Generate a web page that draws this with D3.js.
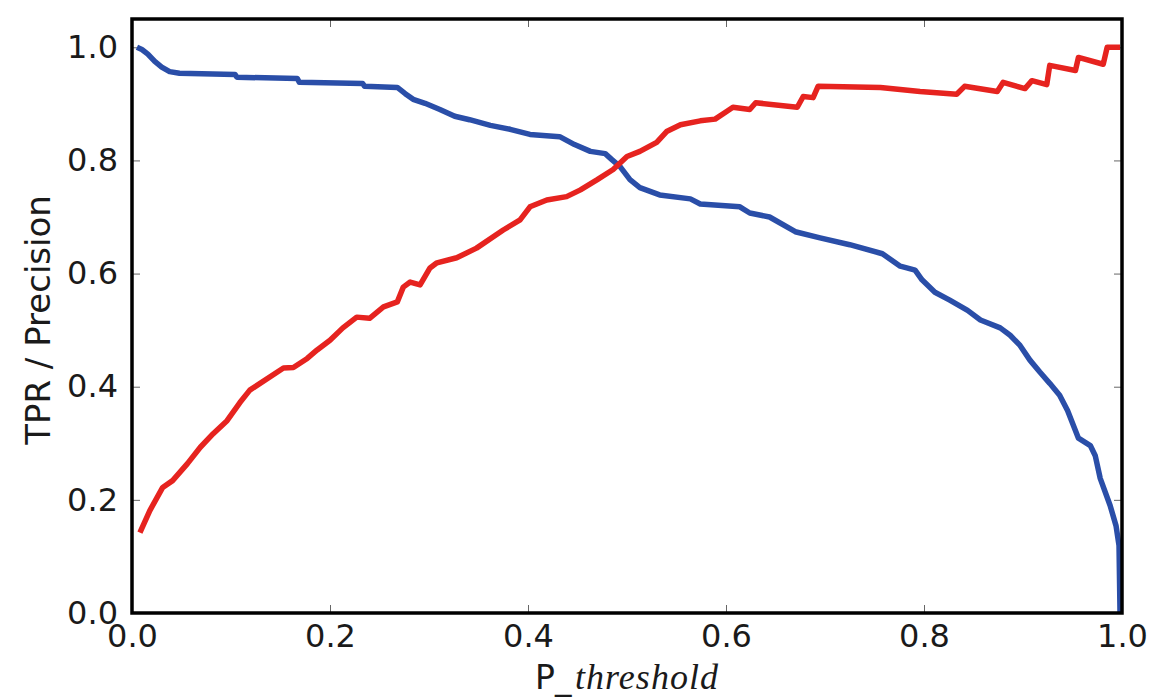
<!DOCTYPE html>
<html>
<head>
<meta charset="utf-8">
<script src="https://cdn.jsdelivr.net/npm/d3@7"></script>
<style>
  html, body { margin: 0; padding: 0; background: #ffffff; }
  svg { display: block; }
</style>
</head>
<body>
<script>
// Threshold sweep: true positive rate and precision as the cut-off moves from 0 to 1
const tprThreshold = [0.005,0.010,0.016,0.023,0.030,0.038,0.048,0.104,0.106,0.167,0.169,0.233,0.235,0.268,0.276,0.284,0.296,0.311,0.326,0.341,0.362,0.382,0.402,0.432,0.447,0.463,0.478,0.485,0.493,0.503,0.513,0.533,0.564,0.574,0.614,0.624,0.644,0.670,0.695,0.725,0.758,0.776,0.791,0.798,0.811,0.826,0.844,0.857,0.877,0.887,0.897,0.907,0.917,0.927,0.937,0.945,0.956,0.968,0.973,0.978,0.988,0.994,0.997,0.998];
const tprValues    = [1.000,0.996,0.988,0.975,0.965,0.957,0.954,0.952,0.947,0.945,0.938,0.936,0.931,0.929,0.918,0.908,0.901,0.890,0.878,0.872,0.862,0.855,0.846,0.842,0.828,0.816,0.812,0.801,0.789,0.766,0.752,0.739,0.732,0.723,0.718,0.707,0.700,0.674,0.663,0.651,0.635,0.613,0.606,0.589,0.567,0.553,0.535,0.518,0.504,0.491,0.473,0.447,0.426,0.406,0.385,0.358,0.309,0.296,0.278,0.238,0.190,0.154,0.119,0.000];

const precThreshold = [0.008,0.018,0.031,0.041,0.056,0.069,0.082,0.096,0.109,0.119,0.153,0.163,0.177,0.187,0.200,0.213,0.227,0.240,0.254,0.268,0.274,0.281,0.291,0.301,0.308,0.328,0.348,0.375,0.392,0.402,0.419,0.439,0.453,0.470,0.486,0.500,0.513,0.530,0.540,0.554,0.574,0.589,0.601,0.607,0.624,0.630,0.672,0.678,0.688,0.693,0.756,0.796,0.833,0.841,0.874,0.880,0.902,0.909,0.924,0.927,0.953,0.956,0.981,0.985,0.998];
const precValues    = [0.142,0.181,0.222,0.234,0.264,0.293,0.317,0.340,0.372,0.394,0.433,0.434,0.450,0.465,0.482,0.504,0.523,0.521,0.541,0.550,0.576,0.585,0.580,0.610,0.619,0.628,0.645,0.677,0.695,0.718,0.730,0.736,0.748,0.766,0.784,0.807,0.816,0.832,0.851,0.863,0.870,0.873,0.887,0.894,0.890,0.902,0.894,0.913,0.911,0.931,0.929,0.922,0.917,0.931,0.922,0.938,0.927,0.941,0.934,0.968,0.959,0.982,0.970,1.000,1.000];

const xTicks = [0.0, 0.2, 0.4, 0.6, 0.8, 1.0];
const yTicks = [0.0, 0.2, 0.4, 0.6, 0.8, 1.0];

const W = 1153, H = 699;
const margin = { left: 132, top: 19, right: 31, bottom: 86 };
const iw = W - margin.left - margin.right;
const ih = H - margin.top - margin.bottom;

const svg = d3.select("body").append("svg").attr("width", W).attr("height", H);
const g = svg.append("g").attr("transform", `translate(${margin.left},${margin.top})`);

const x = d3.scaleLinear().domain([0, 1]).range([0, iw]);
const y = d3.scaleLinear().domain([0, 1.05]).range([ih, 0]);

const sansFont = "'DejaVu Sans', sans-serif";
const tickFontSize = 32;

// inward ticks on all four sides
const tickLen = 8;
const tickStyle = sel => {
  sel.select(".domain").remove();
  sel.selectAll(".tick line").attr("stroke", "#666").attr("stroke-width", 1);
};
g.append("g").attr("transform", `translate(0,${ih})`)
  .call(d3.axisBottom(x).tickValues(xTicks).tickFormat(d3.format(".1f")).tickSizeInner(-tickLen).tickSizeOuter(0).tickPadding(11))
  .call(tickStyle)
  .selectAll("text").attr("font-family", sansFont).attr("font-size", tickFontSize).attr("fill", "#1a1a1a");
g.append("g")
  .call(d3.axisTop(x).tickValues(xTicks).tickFormat("").tickSizeInner(-tickLen).tickSizeOuter(0))
  .call(tickStyle);
g.append("g")
  .call(d3.axisLeft(y).tickValues(yTicks).tickFormat(d3.format(".1f")).tickSizeInner(-tickLen).tickSizeOuter(0).tickPadding(14))
  .call(tickStyle)
  .selectAll("text").attr("font-family", sansFont).attr("font-size", tickFontSize).attr("fill", "#1a1a1a");
g.append("g").attr("transform", `translate(${iw},0)`)
  .call(d3.axisRight(y).tickValues(yTicks).tickFormat("").tickSizeInner(-tickLen).tickSizeOuter(0))
  .call(tickStyle);

// curves
const line = d3.line().x(d => x(d[0])).y(d => y(d[1]));
const tpr = d3.zip(tprThreshold, tprValues);
const prec = d3.zip(precThreshold, precValues);

g.append("path").datum(tpr).attr("d", line)
  .attr("fill", "none").attr("stroke", "#2a4ea8").attr("stroke-width", 5.5)
  .attr("stroke-linejoin", "round").attr("stroke-linecap", "butt");
g.append("path").datum(prec).attr("d", line)
  .attr("fill", "none").attr("stroke", "#e6231f").attr("stroke-width", 5.5)
  .attr("stroke-linejoin", "round").attr("stroke-linecap", "butt");

// frame
g.append("rect").attr("x", 0).attr("y", 0).attr("width", iw).attr("height", ih)
  .attr("fill", "none").attr("stroke", "#000").attr("stroke-width", 3.5);

// axis labels
svg.append("text")
  .attr("transform", `translate(50,${margin.top + ih / 2 + 4}) rotate(-90)`)
  .attr("text-anchor", "middle")
  .attr("font-family", sansFont).attr("font-size", 34).attr("fill", "#1a1a1a")
  .text("TPR / Precision");

const xl = svg.append("text")
  .attr("x", 535).attr("y", 689)
  .attr("font-family", sansFont).attr("font-size", 33).attr("fill", "#1a1a1a");
xl.append("tspan").text("P_");
xl.append("tspan")
  .attr("x", 575)
  .attr("font-family", "'Liberation Serif', 'DejaVu Serif', serif")
  .attr("font-style", "italic").attr("font-size", 36)
  .attr("textLength", 143).attr("lengthAdjust", "spacing")
  .text("threshold");
</script>
</body>
</html>
